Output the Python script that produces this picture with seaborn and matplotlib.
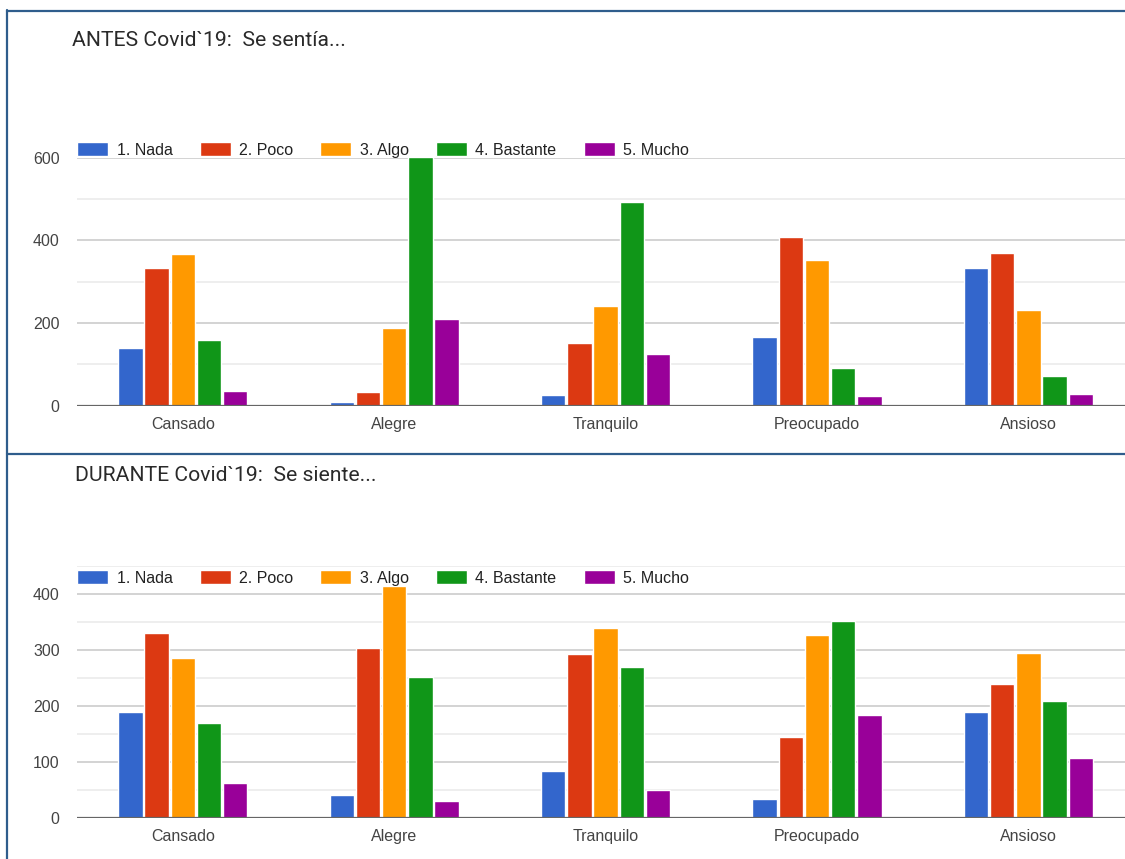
import matplotlib
matplotlib.use("Agg")
import matplotlib.pyplot as plt
import seaborn as sns
import pandas as pd
from matplotlib.lines import Line2D

categories = ['Cansado', 'Alegre', 'Tranquilo', 'Preocupado', 'Ansioso']
levels = ['1. Nada', '2. Poco', '3. Algo', '4. Bastante', '5. Mucho']
colors = ['#3366cc', '#dc3912', '#ff9900', '#109618', '#990099']

# ANTES Covid'19 (one list per answer level, in the order of categories)
antes_nada = [140, 9, 26, 165, 334]
antes_poco = [334, 33, 151, 408, 370]
antes_algo = [366, 189, 242, 352, 232]
antes_bastante = [160, 601, 494, 90, 72]
antes_mucho = [36, 209, 126, 23, 29]

# DURANTE Covid'19
durante_nada = [189, 40, 84, 33, 189]
durante_poco = [330, 303, 293, 145, 239]
durante_algo = [286, 414, 339, 327, 295]
durante_bastante = [170, 251, 270, 351, 209]
durante_mucho = [62, 30, 50, 183, 106]

antes_titulo = 'ANTES Covid`19:  Se sentía...'
durante_titulo = 'DURANTE Covid`19:  Se siente...'

W, H = 1125, 859
CHART_FONT = ['Liberation Sans', 'DejaVu Sans']
TITLE_FONT = ['Roboto', 'DejaVu Sans']
TXT = 11.5


def long_df(series):
    rows = []
    for level, values in zip(levels, series):
        for cat, v in zip(categories, values):
            rows.append({'categoria': cat, 'nivel': level, 'valor': v})
    return pd.DataFrame(rows)


def draw_panel(ax, df, ymax, major, minor, legend_y):
    sns.barplot(
        data=df, x='categoria', y='valor', hue='nivel',
        order=categories, hue_order=levels, palette=colors,
        saturation=1, width=0.62, gap=0.07, errorbar=None, ax=ax,
    )
    ax.set_ylim(0, ymax)
    ax.set_xlim(-0.5, len(categories) - 0.5)
    ax.set_yticks(major)
    ax.set_yticks(minor, minor=True)
    ax.yaxis.grid(True, which='major', color='#cccccc', lw=1.2)
    ax.yaxis.grid(True, which='minor', color='#ebebeb', lw=1.2)
    ax.set_axisbelow(True)
    ax.axhline(0, color='#666666', lw=1.6, zorder=4)
    for s in ax.spines.values():
        s.set_visible(False)
    ax.tick_params(axis='y', which='both', length=0, pad=12.5,
                   labelsize=TXT, labelcolor='#444444')
    ax.tick_params(axis='x', length=0, pad=8, labelsize=TXT,
                   labelcolor='#444444')
    for lab in ax.get_xticklabels() + ax.get_yticklabels():
        lab.set_family(CHART_FONT)
    ax.set_xlabel('')
    ax.set_ylabel('')
    leg = ax.legend(
        loc='center left', bbox_to_anchor=(0, legend_y), ncol=5,
        frameon=False, borderpad=0, borderaxespad=0,
        handlelength=1.94, handleheight=0.92, handletextpad=0.53,
        columnspacing=1.7, prop={'family': CHART_FONT, 'size': TXT},
    )
    for t in leg.get_texts():
        t.set_color('#222222')
    leg.set_zorder(6)


sns.set_style('white')
plt.rcParams['font.family'] = CHART_FONT

fig = plt.figure(figsize=(W / 100, H / 100), dpi=100)
fig.patch.set_facecolor('white')

left = 77.1 / W
width = (5 * 211.4) / W

ax1 = fig.add_axes([left, 1 - 405.7 / H, width, 248 / H])
draw_panel(ax1, long_df([antes_nada, antes_poco, antes_algo, antes_bastante, antes_mucho]),
           600, [0, 200, 400, 600], [100, 300, 500], 1.031)

ax2 = fig.add_axes([left, 1 - 817.7 / H, width, 252 / H])
draw_panel(ax2, long_df([durante_nada, durante_poco, durante_algo, durante_bastante, durante_mucho]),
           450, [0, 100, 200, 300, 400], [50, 150, 250, 350, 450], 0.951)

fig.text(72 / W, 1 - 40 / H, antes_titulo, fontsize=15.2, color='#2a2a2a',
         family=TITLE_FONT, va='center', ha='left')
fig.text(75 / W, 1 - 475.5 / H, durante_titulo, fontsize=15.2, color='#2a2a2a',
         family=TITLE_FONT, va='center', ha='left')

# frame lines of the screenshot panels
border = '#2f5d8c'
fig.add_artist(Line2D([7 / W, 7 / W], [1 - 10 / H, 0], color=border, lw=1.6))
fig.add_artist(Line2D([7 / W, 1], [1 - 10.5 / H, 1 - 10.5 / H], color=border, lw=1.6))
fig.add_artist(Line2D([7 / W, 1], [1 - 454 / H, 1 - 454 / H], color=border, lw=1.6))

fig.savefig('out.png', dpi=100, facecolor='white')
